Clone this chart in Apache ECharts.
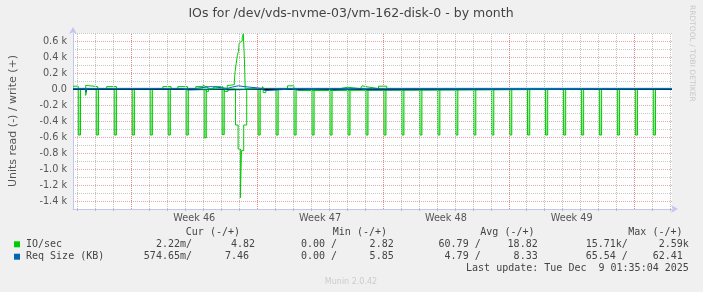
<!DOCTYPE html>
<html><head><meta charset="utf-8">
<script src="https://cdn.jsdelivr.net/npm/echarts@6/dist/echarts.min.js"></script>
<style>html,body{margin:0;padding:0;background:#f0f0f0}#c{width:703px;height:292px}</style>
</head><body><div id="c"></div>
<script>
const chartTitle = 'IOs for /dev/vds-nvme-03/vm-162-disk-0 - by month';
const yAxisTitle = 'Units read (-) / write (+)';
// x values: hours since Mon 10 Nov 2025 00:00 (start of Week 46)
const xStart = -78, xEnd = 722;
const dayLines = [-72,-48,-24,24,48,72,96,120,144,192,216,240,264,288,312,360,384,408,432,456,480,528,552,576,600,624,648,696,720];
const weekLines = [0,168,336,504,672];
const weekLabelHours = [84,252,420,588];
const weekLabels = ['Week 46','Week 47','Week 48','Week 49'];
const yMin = -1500, yMax = 700;

// IO/sec read (negative), daily spikes: [hour, value] held until next point
const readSpikes = [[-78,0],[-71,-575],[-68,0],[-47,-575],[-44,0],[-23,-575],[-20,0],[1,-575],[4,0],[25,-575],[28,0],[49,-575],[52,0],[73,-575],[76,0],[97,-610],[100,0],[121,-570],[124,0],[169,-575],[172,0],[193,-575],[196,0],[217,-575],[220,0],[241,-575],[244,0],[265,-575],[268,0],[289,-575],[292,0],[313,-575],[316,0],[337,-575],[340,0],[361,-575],[364,0],[385,-575],[388,0],[409,-575],[412,0],[433,-575],[436,0],[457,-575],[460,0],[481,-575],[484,0],[505,-575],[508,0],[529,-575],[532,0],[553,-575],[556,0],[577,-575],[580,0],[601,-575],[604,0],[625,-575],[628,0],[649,-575],[652,0],[673,-575],[676,0],[697,-575],[700,0],[722,0]];
// IO/sec read (negative), other activity
const readOther = [[-78,0],[-61,-80],[-59.5,0],[100,-30],[103,0],[124,-30],[129,0],[139,-450],[142.5,-750],[145.5,-1360],[147,-770],[150,-450],[154,0],[176,-45],[179.5,0],[220,-20],[223,0],[722,0]];
// IO/sec write (positive)
const writeIO = [[-78,35],[-71,4],[-61,45],[-59.5,30],[-45,4],[-33,30],[-20,4],[42,30],[53,4],[62,30],[75,4],[86,30],[96,60],[98,30],[102,4],[110,30],[122,4],[128,45],[131,55],[137.5,90],[138.5,220],[140,320],[141.5,420],[143,470],[144,575],[146,600],[148,640],[149.5,690],[151,350],[152,4],[175,30],[177,4],[208.5,40],[217,4],[278,22],[289,4],[306,25],[308,40],[310,25],[316.5,4],[330,35],[341,4],[722,4]];
// Req Size (KB) read (negative) / write (positive)
const readSize = [[-78,-1],[-61,-40],[-59.5,-1],[68,-12],[77,-1],[122,-12],[128.6,-1],[173,-20],[179.5,-1],[213,-12],[223,-1],[261,-12],[270,-1],[306,-12],[316,-1],[722,-1]];
const writeSize = [[-78,8],[86,30],[106,8],[128.5,25],[135,40],[143,30],[150.5,8],[175,20],[177,8],[722,8]];

const legendNames = ['IO/sec','Req Size (KB)'];
const legendColors = ['#00cc00','#0066b3'];
const colHeads = ['Cur (-/+)','Min (-/+)','Avg (-/+)','Max (-/+)'];
const statRows = [
  ['2.22m/','4.82','0.00 /','2.82','60.79 /','18.82','15.71k/','2.59k'],
  ['574.65m/','7.46 ','0.00 /','5.85','4.79 /','8.33','65.54 /','62.41 ']
];
const lastUpdate = 'Last update: Tue Dec  9 01:35:04 2025';
const footer = 'Munin 2.0.42';
const sideText = 'RRDTOOL / TOBI OETIKER';

const green = '#00cc00', blue = '#0066b3';
const mono = 'DejaVu Sans Mono', sans = 'DejaVu Sans';
const txt = '#444';

const chart = echarts.init(document.getElementById('c'), null, {renderer:'canvas'});
const lineBase = {type:'line', step:'end', showSymbol:false, symbol:'none', silent:true, animation:false};

const graphics = [];
graphics.push({type:'text', x:351, y:14, style:{text:chartTitle, font:'12.5px "'+sans+'"', fill:txt, textAlign:'center', textVerticalAlign:'middle'}});
graphics.push({type:'text', x:692, y:5, rotation:-Math.PI/2, style:{text:sideText, font:'7.5px "'+sans+'"', fill:'#c8c8c8', textAlign:'left', textVerticalAlign:'middle'}});
const headEnds = [240,387,534.5,682.5];
colHeads.forEach((h,i)=>graphics.push({type:'text', x:headEnds[i], y:232, style:{text:h, font:'10px "'+mono+'"', fill:txt, textAlign:'right', textVerticalAlign:'middle'}}));
const valEnds = [192,255,337,393.7,480.7,537.7,627.8,688.8];
const rowY = [244.3,256.7];
legendNames.forEach((n,r)=>{
  graphics.push({type:'rect', shape:{x:14, y:rowY[r]-3, width:6, height:6}, style:{fill:legendColors[r]}});
  graphics.push({type:'text', x:26, y:rowY[r], style:{text:n, font:'10px "'+mono+'"', fill:txt, textAlign:'left', textVerticalAlign:'middle'}});
  statRows[r].forEach((v,i)=>graphics.push({type:'text', x:valEnds[i], y:rowY[r], style:{text:v, font:'10px "'+mono+'"', fill:txt, textAlign:'right', textVerticalAlign:'middle'}}));
});
graphics.push({type:'text', x:688.8, y:268.3, style:{text:lastUpdate, font:'10px "'+mono+'"', fill:txt, textAlign:'right', textVerticalAlign:'middle'}});
graphics.push({type:'text', x:351, y:282, style:{text:footer, font:'8px "'+sans+'"', fill:'#cccccc', textAlign:'center', textVerticalAlign:'middle'}});

const axisLineStyle = {color:'#c4c6f2', width:1};
chart.setOption({
  backgroundColor:'#f0f0f0',
  animation:false,
  grid:{left:72, right:31, top:33, bottom:83, show:true, backgroundColor:'#ffffff', borderWidth:0},
  xAxis:[{
    type:'value', min:xStart, max:xEnd,
    axisLine:{show:true, onZero:false, lineStyle:axisLineStyle, symbol:['none','arrow'], symbolSize:[6,7], symbolOffset:[0,6]},
    axisTick:{show:true, customValues:dayLines, length:2, lineStyle:{color:'#bbbbbb'}},
    axisLabel:{show:true, customValues:weekLabelHours, formatter:(v)=>weekLabels[weekLabelHours.indexOf(v)]||'', color:'#555', fontSize:9.7, fontFamily:sans, margin:4},
    splitLine:{show:false}
  },{
    type:'value', min:xStart, max:xEnd, position:'bottom',
    axisLine:{show:false},
    axisTick:{show:true, customValues:weekLines, length:2, lineStyle:{color:'#e08080'}},
    axisLabel:{show:false}, splitLine:{show:false}
  }],
  yAxis:{
    type:'value', min:yMin, max:yMax, interval:100,
    name:yAxisTitle, nameLocation:'middle', nameGap:54, nameRotate:90,
    nameTextStyle:{fontFamily:sans, fontSize:11, color:'#555'},
    axisLine:{show:true, onZero:false, lineStyle:axisLineStyle, symbol:['none','arrow'], symbolSize:[6,7], symbolOffset:[0,6]},
    axisTick:{show:false},
    axisLabel:{color:'#555', fontSize:9.7, fontFamily:sans, margin:6,
      formatter:(v)=> (Math.abs(v)%200!==0) ? '' : (v===0 ? '0.0' : (v/1000).toFixed(1)+' k')},
    splitLine:{show:true, lineStyle:{color:['#c8c8c8','#eca4a4'], type:[1,1], width:1}}
  },
  graphic:graphics,
  series:[
    {type:'line', data:[], silent:true, z:1, markLine:{silent:true, symbol:'none', animation:false, label:{show:false},
      lineStyle:{color:'#c0c0c0', type:[1,1], width:1}, data:dayLines.map(h=>({xAxis:h}))}},
    Object.assign({}, lineBase, {name:'readSpikes', data:readSpikes, z:3, lineStyle:{color:green, width:1},
      areaStyle:{color:new echarts.graphic.LinearGradient(0,0,0,1,[{offset:0,color:'rgba(0,204,0,0.35)'},{offset:1,color:'rgba(0,204,0,0.75)'}])}}),
    Object.assign({}, lineBase, {name:'readOther', data:readOther, z:3, lineStyle:{color:green, width:1}}),
    Object.assign({}, lineBase, {name:'writeIO', data:writeIO, z:3, lineStyle:{color:green, width:1}}),
    {type:'line', data:[], silent:true, z:2, markLine:{silent:true, symbol:'none', animation:false, label:{show:false},
      lineStyle:{color:'#e88888', type:[1,1], width:1}, data:weekLines.map(h=>({xAxis:h}))}},
    {type:'line', data:[], silent:true, z:4, markLine:{silent:true, symbol:'none', animation:false, label:{show:false},
      lineStyle:{color:'#000', type:'solid', width:1}, data:[{yAxis:0}]}},
    Object.assign({}, lineBase, {name:'readSize', data:readSize, z:5, lineStyle:{color:blue, width:1}}),
    Object.assign({}, lineBase, {name:'writeSize', data:writeSize, z:5, lineStyle:{color:blue, width:1}})
  ]
});
</script></body></html>
